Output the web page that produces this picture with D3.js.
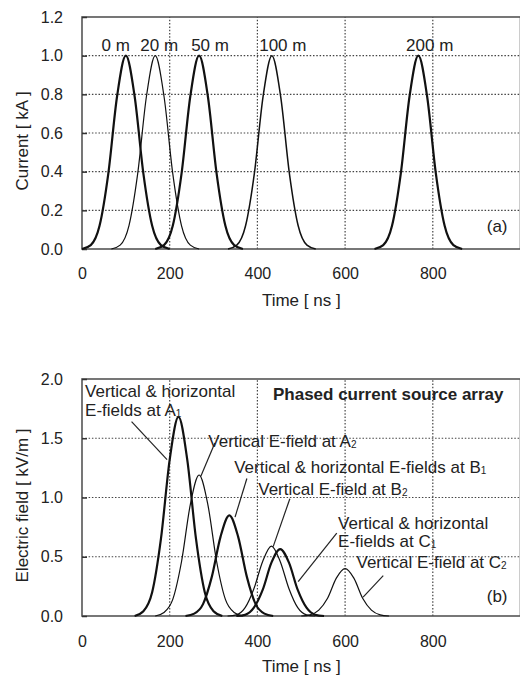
<!DOCTYPE html>
<html>
<head>
<meta charset="UTF-8">
<title>Current and E-field waveforms</title>
<script src="https://cdn.jsdelivr.net/npm/d3@7"></script>
<style>
body{margin:0;background:#fff;}
text{font-family:"Liberation Sans",Arial,sans-serif;fill:#222;}
</style>
</head>
<body>
<script>
// (a) current waveforms at each distance, [time ns, current kA]
var current0m=[[0,0],[20,0.02],[40,0.12],[60,0.39],[80,0.79],[100,1.0],[120,0.79],[140,0.39],[160,0.12],[180,0.02],[200,0]];
var current20m=[[67,0],[87,0.02],[107,0.12],[127,0.39],[147,0.79],[167,1.0],[187,0.79],[207,0.39],[227,0.12],[247,0.02],[267,0]];
var current50m=[[167,0],[187,0.02],[207,0.12],[227,0.39],[247,0.79],[267,1.0],[287,0.79],[307,0.39],[327,0.12],[347,0.02],[367,0]];
var current100m=[[333,0],[353,0.02],[373,0.12],[393,0.39],[413,0.79],[433,1.0],[453,0.79],[473,0.39],[493,0.12],[513,0.02],[533,0]];
var current200m=[[667,0],[687,0.02],[707,0.12],[727,0.39],[747,0.79],[767,1.0],[787,0.79],[807,0.39],[827,0.12],[847,0.02],[867,0]];
var distanceLabels=["0 m","20 m","50 m","100 m","200 m"];

// (b) electric fields, [time ns, field kV/m]
var fieldA1=[[120,0],[140,0.04],[160,0.2],[180,0.65],[200,1.32],[220,1.68],[240,1.32],[260,0.65],[280,0.2],[300,0.04],[320,0]];
var fieldA2=[[167,0],[187,0.03],[207,0.14],[227,0.46],[247,0.94],[267,1.19],[287,0.94],[307,0.46],[327,0.14],[347,0.03],[367,0]];
var fieldB1=[[236,0],[256,0.02],[276,0.1],[296,0.33],[316,0.67],[336,0.85],[356,0.67],[376,0.33],[396,0.1],[416,0.02],[436,0]];
var fieldB2=[[332,0],[352,0.01],[372,0.07],[392,0.23],[412,0.46],[432,0.59],[452,0.46],[472,0.23],[492,0.07],[512,0.01],[532,0]];
var fieldC1=[[352,0],[372,0.01],[392,0.07],[412,0.22],[432,0.45],[452,0.565],[472,0.45],[492,0.22],[512,0.07],[532,0.01],[552,0]];
var fieldC2=[[500,0],[520,0.01],[540,0.05],[560,0.15],[580,0.32],[600,0.4],[620,0.32],[640,0.15],[660,0.05],[680,0.01],[700,0]];

var timeTicks=[0,200,400,600,800];
var currentTicks=[0,0.2,0.4,0.6,0.8,1.0,1.2];
var fieldTicks=[0,0.5,1.0,1.5,2.0];

var width=520,height=677;
var svg=d3.select("body").append("svg").attr("width",width).attr("height",height);

var xScale=d3.scaleLinear().domain([0,1000]).range([82,520.5]);
var yTop=d3.scaleLinear().domain([0,1.2]).range([249,17]);
var yBot=d3.scaleLinear().domain([0,2]).range([616,379]);

function panel(y,yTicks,yTitle,titleY,axisPad){
	var g=svg.append("g");
	var x0=xScale.range()[0],x1=xScale.range()[1];
	var ymax=y.domain()[1];
	// dotted grid
	g.selectAll(".vg").data(timeTicks.filter(function(d){return d>0;}))
	 .enter().append("line")
	 .attr("x1",function(d){return xScale(d);}).attr("x2",function(d){return xScale(d);})
	 .attr("y1",y(0)).attr("y2",y(ymax))
	 .attr("stroke","#444").attr("stroke-width",1.2).attr("stroke-dasharray","1.5,1.8");
	g.selectAll(".hg").data(yTicks.filter(function(d){return d>0&&d<ymax;}))
	 .enter().append("line")
	 .attr("x1",x0).attr("x2",x1)
	 .attr("y1",function(d){return y(d);}).attr("y2",function(d){return y(d);})
	 .attr("stroke","#444").attr("stroke-width",1.2).attr("stroke-dasharray","1.5,1.8");
	// frame
	g.append("rect").attr("x",x0).attr("y",y(ymax)).attr("width",x1-x0).attr("height",y(0)-y(ymax))
	 .attr("fill","none").attr("stroke","#555").attr("stroke-width",1.6);
	var ya=g.append("g").attr("transform","translate("+x0+",0)")
	 .call(d3.axisLeft(y).tickValues(yTicks).tickSize(-5).tickPadding(19).tickFormat(d3.format(".1f")));
	ya.select(".domain").remove();
	ya.selectAll("line").attr("stroke","#333").attr("stroke-width",1.5);
	var xa=g.append("g").attr("transform","translate(0,"+y(0)+")")
	 .call(d3.axisBottom(xScale).tickValues(timeTicks).tickSize(0).tickPadding(axisPad).tickFormat(d3.format("d")));
	xa.select(".domain").remove();
	g.selectAll(".tick text").attr("font-size",16).attr("font-family","Liberation Sans, Arial, sans-serif").attr("fill","#222");
	g.append("text").attr("x",(x0+x1)/2).attr("y",titleY).attr("text-anchor","middle")
	 .attr("font-size",17).text("Time [ ns ]");
	g.append("text").attr("transform","translate(28,"+((y(0)+y(ymax))/2+8)+") rotate(-90)")
	 .attr("text-anchor","middle").attr("font-size",17).text(yTitle);
	return g;
}

function curve(g,data,y,w){
	g.append("path").datum(data)
	 .attr("d",d3.line().x(function(d){return xScale(d[0]);}).y(function(d){return y(d[1]);}).curve(d3.curveMonotoneX))
	 .attr("fill","none").attr("stroke","#111").attr("stroke-width",w);
}

function label(g,x,y,main,sub,bold){
	var t=g.append("text").attr("x",x).attr("y",y).attr("font-size",17).text(main);
	if(bold) t.attr("font-weight","bold");
	if(sub) t.append("tspan").attr("font-size",10).attr("dy",1).text(sub);
}

// ---- (a)
var ga=panel(yTop,currentTicks,"Current [ kA ]",306,19);
var topSeries=[current0m,current20m,current50m,current100m,current200m];
var topWidths=[2.2,1.2,2.2,1.5,2.2];
topSeries.forEach(function(s,i){curve(ga,s,yTop,topWidths[i]);});
var labelAt=[77,176,292,458,793];//time where each label is centred
distanceLabels.forEach(function(d,i){
	ga.append("text").attr("x",xScale(labelAt[i])).attr("y",yTop(1.024))
	  .attr("text-anchor","middle").attr("font-size",17).text(d);
});
label(ga,xScale(923),yTop(0.09),"(a)");

// ---- (b)
var gb=panel(yBot,fieldTicks,"Electric field [ kV/m ]",672,20);
var botSeries=[fieldA1,fieldA2,fieldB1,fieldB2,fieldC1,fieldC2];
var botWidths=[2.2,1.2,2.2,1.2,2.2,1.2];
botSeries.forEach(function(s,i){curve(gb,s,yBot,botWidths[i]);});

// annotation text and leader lines, in data units
var notes=[
	{t:7,v:1.844,main:"Vertical & horizontal"},
	{t:7,v:1.684,main:"E-fields at A",sub:"1"},
	{t:288,v:1.426,main:"Vertical E-field at A",sub:"2"},
	{t:347,v:1.204,main:"Vertical & horizontal E-fields at B",sub:"1"},
	{t:402,v:1.021,main:"Vertical E-field at B",sub:"2"},
	{t:584,v:0.734,main:"Vertical & horizontal"},
	{t:584,v:0.582,main:"E-fields at C",sub:"1"},
	{t:626,v:0.405,main:"Vertical E-field at C",sub:"2"}
];
var leaders=[
	[[113,1.64],[194,1.32]],
	[[303,1.46],[271,1.18]],
	[[376,1.16],[349,0.835]],
	[[474,0.99],[436,0.585]],
	[[581,0.70],[493,0.29]],
	[[687,0.34],[641,0.16]]
];
leaders.forEach(function(l){
	gb.append("line").attr("x1",xScale(l[0][0])).attr("y1",yBot(l[0][1]))
	  .attr("x2",xScale(l[1][0])).attr("y2",yBot(l[1][1]))
	  .attr("stroke","#222").attr("stroke-width",1.2);
});
notes.forEach(function(n){label(gb,xScale(n.t),yBot(n.v),n.main,n.sub);});
label(gb,xScale(435.5),yBot(1.823),"Phased current source array",null,true);
label(gb,xScale(923),yBot(0.12),"(b)");
</script>
</body>
</html>
